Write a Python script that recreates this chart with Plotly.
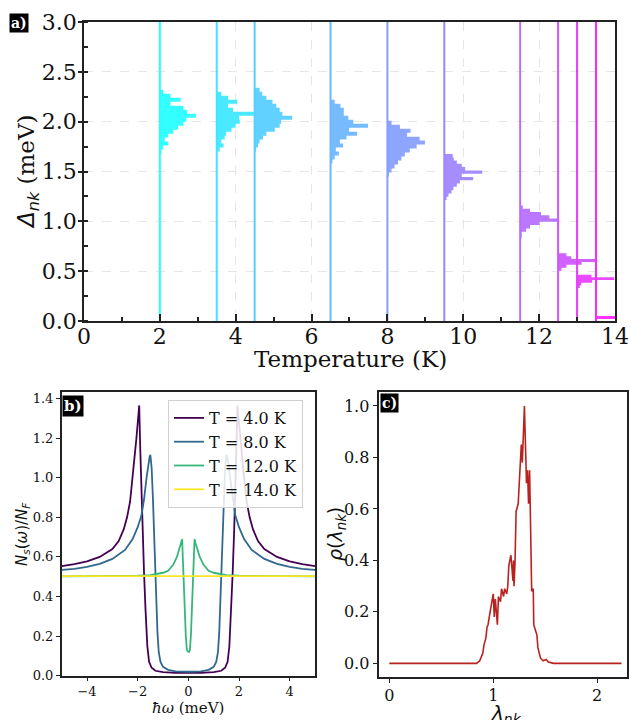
import plotly.graph_objects as go
import numpy as np

# ---------------- Panel a data ----------------
temps = [2.0, 3.5, 4.5, 6.5, 8.0, 9.5, 11.5, 12.5, 13.0, 13.5]
hist_start = [1.68, 1.70, 1.70, 1.58, 1.45, 1.214, 0.83, 0.505, 0.33, 0.02]
hist_bin = [0.04, 0.04, 0.04, 0.04, 0.04, 0.033, 0.033, 0.029, 0.027, 0.03]
hist_len = [
    [0.04, 0.09, 0.22, 0.13, 0.22, 0.35, 0.48, 0.62, 0.70, 0.95, 0.72, 0.62, 0.28, 0.55, 0.28, 0.09],
    [0.08, 0.18, 0.12, 0.21, 0.25, 0.39, 0.50, 0.61, 0.59, 1.00, 0.43, 0.30, 0.54, 0.30, 0.12],
    [0.04, 0.09, 0.13, 0.22, 0.31, 0.53, 0.66, 0.70, 0.99, 0.73, 0.66, 0.57, 0.47, 0.31, 0.20, 0.13],
    [0.05, 0.11, 0.22, 0.14, 0.33, 0.25, 0.42, 0.70, 0.49, 0.99, 0.60, 0.47, 0.35, 0.35, 0.26, 0.11],
    [0.04, 0.11, 0.19, 0.28, 0.37, 0.46, 0.59, 0.77, 0.99, 0.85, 0.52, 0.61, 0.33, 0.11],
    [0.06, 0.11, 0.19, 0.24, 0.33, 0.41, 0.76, 0.46, 1.00, 0.55, 0.46, 0.33, 0.25, 0.22],
    [0.04, 0.04, 0.16, 0.26, 0.51, 0.99, 0.77, 0.55, 0.26, 0.07],
    [0.09, 0.22, 0.62, 0.99, 0.35, 0.22],
    [0.07, 0.11, 0.40, 0.98, 0.38],
    [1.00],
]
temp_colors = ["#00ffff", "#1ce3ff", "#39c6ff", "#55aaff", "#718eff",
               "#8e71ff", "#aa55ff", "#c639ff", "#e31cff", "#ff00ff"]

# ---------------- Panel b data ----------------
w_t4 = [-5, -4.5, -4, -3.5, -3, -2.75, -2.55, -2.42, -2.3, -2.2, -2.12, -2.05, -1.99, -1.94,
        -1.9, -1.85, -1.81, -1.75, -1.69, -1.62, -1.55, -1.45, -1.3, -1.0, -0.5, 0,
        0.5, 1.0, 1.3, 1.45, 1.55, 1.62, 1.69, 1.75, 1.81, 1.85, 1.9, 1.94, 1.99, 2.05,
        2.12, 2.2, 2.3, 2.42, 2.55, 2.75, 3, 3.5, 4, 4.5, 5]
n_t4 = [0.553, 0.563, 0.578, 0.60, 0.64, 0.68, 0.74, 0.80, 0.88, 1.0, 1.1, 1.2, 1.29, 1.365,
        1.15, 0.90, 0.74, 0.52, 0.33, 0.15, 0.07, 0.04, 0.025, 0.018, 0.014, 0.013,
        0.014, 0.018, 0.025, 0.04, 0.07, 0.15, 0.33, 0.52, 0.74, 0.90, 1.15, 1.365, 1.29, 1.2,
        1.1, 1.0, 0.88, 0.80, 0.74, 0.68, 0.64, 0.60, 0.578, 0.563, 0.553]

w_t8 = [-5, -4.5, -4, -3.5, -3, -2.5, -2.2, -2.0, -1.85, -1.75, -1.65, -1.58, -1.53, -1.5,
        -1.45, -1.4, -1.35, -1.3, -1.26, -1.22, -1.17, -1.1, -1.0, -0.8, -0.5, 0,
        0.5, 0.8, 1.0, 1.1, 1.17, 1.22, 1.26, 1.3, 1.35, 1.4, 1.45, 1.5, 1.53, 1.58,
        1.65, 1.75, 1.85, 2.0, 2.2, 2.5, 3, 3.5, 4, 4.5, 5]
n_t8 = [0.534, 0.54, 0.55, 0.565, 0.59, 0.635, 0.69, 0.75, 0.81, 0.89, 1.0, 1.07, 1.105, 1.115,
        1.05, 0.90, 0.74, 0.55, 0.37, 0.22, 0.12, 0.07, 0.045, 0.03, 0.022, 0.02,
        0.022, 0.03, 0.045, 0.07, 0.12, 0.22, 0.37, 0.55, 0.74, 0.90, 1.05, 1.115, 1.105, 1.07,
        1.0, 0.89, 0.81, 0.75, 0.69, 0.635, 0.59, 0.565, 0.55, 0.54, 0.534]

w_t12 = [-5, -3, -2, -1.5, -1.0, -0.8, -0.6, -0.45, -0.35, -0.28, -0.245, -0.22, -0.18, -0.14,
         -0.1, -0.06, -0.03, 0, 0.03, 0.06, 0.1, 0.14, 0.18, 0.22, 0.245, 0.28, 0.35, 0.45,
         0.6, 0.8, 1.0, 1.5, 2, 3, 5]
n_t12 = [0.502, 0.503, 0.505, 0.508, 0.52, 0.53, 0.56, 0.60, 0.64, 0.67, 0.69, 0.60, 0.45, 0.32,
         0.20, 0.13, 0.12, 0.12, 0.12, 0.13, 0.20, 0.32, 0.45, 0.60, 0.69, 0.67, 0.64, 0.60,
         0.56, 0.53, 0.52, 0.508, 0.505, 0.503, 0.502]

w_t14 = [-5, 0, 5]
n_t14 = [0.503, 0.503, 0.503]

dos_labels = ["T = 4.0 K", "T = 8.0 K", "T = 12.0 K", "T = 14.0 K"]
dos_colors = ["#440154", "#31688e", "#35b779", "#fde725"]

# ---------------- Panel c data ----------------
lam = [0.0, 0.5, 0.84, 0.87, 0.90, 0.91, 0.93, 0.94, 0.95, 0.97, 0.98, 1.00, 1.01, 1.02, 1.03,
       1.04, 1.05, 1.07, 1.08, 1.10, 1.11, 1.13, 1.14, 1.15, 1.17, 1.18, 1.19, 1.195, 1.20,
       1.21, 1.22, 1.24, 1.26, 1.27, 1.28, 1.29, 1.30, 1.31, 1.32, 1.33, 1.34, 1.35, 1.36,
       1.37, 1.385, 1.39, 1.42, 1.43, 1.455, 1.48, 1.51, 1.53, 1.58, 2.0, 2.234]
rho = [0.0, 0.0, 0.0, 0.01, 0.04, 0.07, 0.10, 0.14, 0.15, 0.20, 0.22, 0.27, 0.18, 0.25, 0.20,
       0.15, 0.26, 0.24, 0.29, 0.26, 0.29, 0.27, 0.30, 0.38, 0.42, 0.36, 0.32, 0.40, 0.30,
       0.40, 0.59, 0.62, 0.80, 0.85, 0.78, 0.95, 1.00, 0.85, 0.70, 0.75, 0.62, 0.75, 0.45,
       0.28, 0.29, 0.15, 0.11, 0.06, 0.02, 0.01, 0.015, 0.005, 0.0, 0.0, 0.0]

SERIF = "DejaVu Serif"
W, H = 631, 720


def lighten(hexcol, alpha):
    r, g, b = (int(hexcol[k:k + 2], 16) for k in (1, 3, 5))
    mix = lambda c: int(round(alpha * c + (1 - alpha) * 255))
    return "rgb(%d,%d,%d)" % (mix(r), mix(g), mix(b))


fig = go.Figure()

# Panel a: horizontal step histograms (filled outlines) + vertical temperature lines
for i, T in enumerate(temps):
    lens = hist_len[i]
    b0, db = hist_start[i], hist_bin[i]
    xs, ys = [T], [b0]
    for k, L in enumerate(lens):
        lo, hi = b0 + k * db, b0 + (k + 1) * db
        xs += [T + L, T + L]
        ys += [lo, hi]
    xs += [T, T]
    ys += [b0 + len(lens) * db, b0]
    fig.add_trace(go.Scatter(x=xs, y=ys, mode="lines", fill="toself",
                             fillcolor=lighten(temp_colors[i], 0.8),
                             line=dict(width=0, color=lighten(temp_colors[i], 0.8)),
                             showlegend=False, xaxis="x", yaxis="y", hoverinfo="skip"))
    fig.add_trace(go.Scatter(x=[T, T], y=[0, 3], mode="lines",
                             line=dict(color=lighten(temp_colors[i], 0.85), width=2),
                             showlegend=False, xaxis="x", yaxis="y",
                             hoverinfo="skip"))

# Panel b
for w, n, lab, col in zip([w_t4, w_t8, w_t12, w_t14], [n_t4, n_t8, n_t12, n_t14],
                          dos_labels, dos_colors):
    fig.add_trace(go.Scatter(x=w, y=n, mode="lines", name=lab,
                             line=dict(color=col, width=1.8),
                             xaxis="x2", yaxis="y2"))

# Panel c
fig.add_trace(go.Scatter(x=lam, y=rho, mode="lines", line=dict(color="#b8221f", width=1.6),
                         showlegend=False, xaxis="x3", yaxis="y3"))

frame = dict(showline=True, linecolor="#222222", linewidth=1.5, mirror=True,
             zeroline=False, tickcolor="#222222", automargin=False)

fig.update_layout(
    width=W, height=H, autosize=False,
    margin=dict(l=0, r=0, t=0, b=0, autoexpand=False),
    paper_bgcolor="white", plot_bgcolor="white",
    font=dict(family=SERIF, color="#111111"),
    xaxis=dict(domain=[0.1331, 0.9746], anchor="y", range=[0, 14], tick0=0, dtick=2,
               ticks="inside", ticklen=7, tickwidth=1.5, ticklabelstandoff=-5,
               minor=dict(dtick=1, ticks="inside", ticklen=4, tickcolor="#222222", showgrid=False),
               showgrid=True, gridcolor="#e6e6e6", griddash="dash", gridwidth=1,
               tickfont=dict(size=22, family=SERIF), **frame),
    yaxis=dict(domain=[0.5542, 0.9694], anchor="x", range=[0, 3], tick0=0, dtick=0.5,
               tickformat=".1f", ticks="outside", ticklen=4, tickwidth=1.5, ticklabelstandoff=-3,
               minor=dict(dtick=0.25, ticks="inside", ticklen=4, tickcolor="#222222", showgrid=False),
               showgrid=True, gridcolor="#e6e6e6", griddash="dash", gridwidth=1,
               tickfont=dict(size=22, family=SERIF), **frame),
    xaxis2=dict(domain=[0.0978, 0.4992], anchor="y2", range=[-5, 5], tick0=0, dtick=2,
                ticks="outside", ticklen=4, tickwidth=1.2, showgrid=False, ticklabelstandoff=-1,
                tickfont=dict(size=13, family=SERIF), **frame),
    yaxis2=dict(domain=[0.0615, 0.4556], anchor="x2", range=[0, 1.433], tick0=0, dtick=0.2,
                tickformat=".1f", ticks="outside", ticklen=4, tickwidth=1.2, showgrid=False,
                tickfont=dict(size=13, family=SERIF), **frame),
    xaxis3=dict(domain=[0.6011, 0.9937], anchor="y3", range=[-0.096, 2.287], tick0=0, dtick=1,
                ticks="outside", ticklen=5, tickwidth=1.2, showgrid=False, ticklabelstandoff=-2,
                tickfont=dict(size=16, family=SERIF), **frame),
    yaxis3=dict(domain=[0.0601, 0.4551], anchor="x3", range=[-0.052, 1.053], tick0=0, dtick=0.2,
                tickformat=".1f", ticks="outside", ticklen=5, tickwidth=1.2, showgrid=False,
                tickfont=dict(size=16, family=SERIF), **frame),
    legend=dict(x=168 / W, y=1 - 400 / H, xanchor="left", yanchor="top",
                bgcolor="rgba(255,255,255,0.85)", bordercolor="#d0d0d0", borderwidth=1,
                font=dict(size=16, family=SERIF), itemwidth=30),
)

# Axis titles (placed as annotations in pixel-derived paper coordinates)
titles = [
    ("Temperature (K)", 350, 359, 0, 23),
    ("<span style='font-family:DejaVu Sans'><i>Δ</i><sub><i>nk</i></sub></span> (meV)", 28, 172, -90, 23),
    ("<i>ħω</i> (meV)", 188, 708, 0, 15),
    ("<span style='font-family:DejaVu Sans'><i>N<sub>s</sub></i>(<i>ω</i>)/<i>N<sub>F</sub></i></span>", 22, 534, -90, 15),
    ("<span style='font-family:DejaVu Sans'><i>λ<sub>nk</sub></i></span>", 506, 714, 0, 20),
    ("<span style='font-family:DejaVu Sans'><i>ρ</i>(<i>λ<sub>nk</sub></i>)</span>", 336, 534, -90, 19),
]
for txt, px, py, ang, fs in titles:
    fig.add_annotation(text=txt, xref="paper", yref="paper", x=px / W, y=1 - py / H,
                       xanchor="center", yanchor="middle", textangle=ang, showarrow=False,
                       font=dict(size=fs, family=SERIF, color="#111111"))

labels = [("a)", 9, 13, 14), ("b)", 62, 395, 15), ("c)", 380, 393, 14)]
for txt, px, py, fs in labels:
    fig.add_annotation(text="<b>" + txt + "</b>", xref="paper", yref="paper",
                       x=px / W, y=1 - py / H, xanchor="left", yanchor="top",
                       showarrow=False, bgcolor="black", borderpad=1,
                       font=dict(color="white", size=fs, family=SERIF))

fig.write_html("out.html", config={"displayModeBar": False},
               post_script="document.body.style.margin='0';document.body.style.overflow='hidden';")
